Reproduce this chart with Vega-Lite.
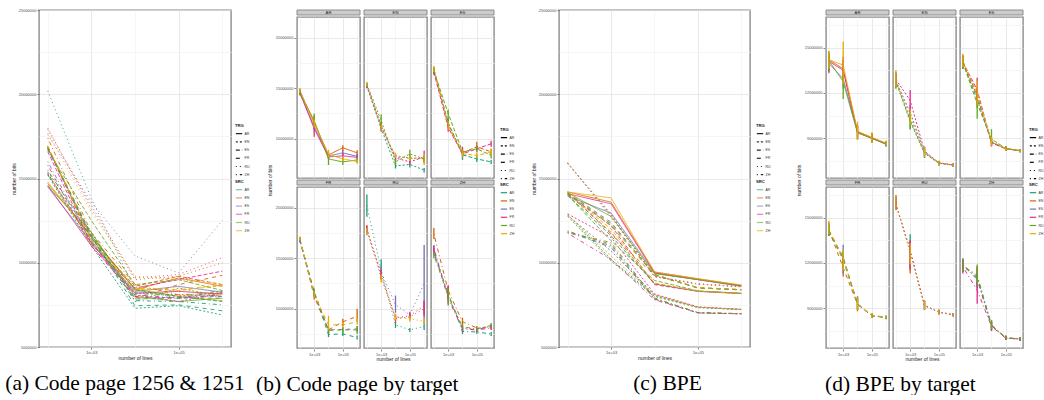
{
"$schema": "https://vega.github.io/schema/vega-lite/v6.json",
"background": "white",
"padding": {"left": 4, "top": 7, "right": 0, "bottom": 0},
"config": {
  "font": "Liberation Sans",
  "view": {"stroke": "#8C8C8C", "strokeWidth": 1.4},
  "axis": {"labelFontSize": 4, "titleFontSize": 5, "tickSize": 2, "tickWidth": 0.6, "tickColor": "#333333", "labelColor": "#4D4D4D", "titleColor": "#1A1A1A", "titleFontWeight": "normal", "domain": false, "labelPadding": 1, "titlePadding": 1.8, "gridWidth": 0.7, "labelFlush": false, "labelOverlap": false, "minExtent": 0},
  "legend": {"titleFontSize": 4.2, "titleFontWeight": "bold", "titleColor": "#1A1A1A", "labelFontSize": 3.5, "labelColor": "#333333", "symbolType": "stroke", "symbolSize": 40, "symbolStrokeWidth": 1.2, "rowPadding": 1.2, "titlePadding": 1.5, "labelOffset": 1.5, "padding": 0},
  "title": {"orient": "bottom", "font": "Liberation Serif", "fontSize": 21.5, "fontWeight": "normal", "color": "#000000", "offset": 12},
  "facet": {"spacing": 2},
  "concat": {"spacing": 26}
},
"datasets": {
"cp": [
{"trg":"AR","src":"EN","lines":100,"bits":14700000,"lo":14450000,"hi":14950000},
{"trg":"AR","src":"EN","lines":1000,"bits":11600000,"lo":11000000,"hi":12300000},
{"trg":"AR","src":"EN","lines":10000,"bits":8400000,"lo":8150000,"hi":8700000},
{"trg":"AR","src":"EN","lines":100000,"bits":9100000,"lo":8750000,"hi":9350000},
{"trg":"AR","src":"EN","lines":1000000,"bits":8600000,"lo":8350000,"hi":8850000},
{"trg":"AR","src":"ES","lines":100,"bits":14500000,"lo":14300000,"hi":14750000},
{"trg":"AR","src":"ES","lines":1000,"bits":11200000,"lo":10800000,"hi":11600000},
{"trg":"AR","src":"ES","lines":10000,"bits":8300000,"lo":8100000,"hi":8550000},
{"trg":"AR","src":"ES","lines":100000,"bits":8600000,"lo":8350000,"hi":8850000},
{"trg":"AR","src":"ES","lines":1000000,"bits":8250000,"lo":8050000,"hi":8500000},
{"trg":"AR","src":"FR","lines":100,"bits":14600000,"lo":14350000,"hi":14900000},
{"trg":"AR","src":"FR","lines":1000,"bits":11000000,"lo":10200000,"hi":11600000},
{"trg":"AR","src":"FR","lines":10000,"bits":8200000,"lo":7950000,"hi":8450000},
{"trg":"AR","src":"FR","lines":100000,"bits":8300000,"lo":8050000,"hi":8550000},
{"trg":"AR","src":"FR","lines":1000000,"bits":8150000,"lo":7950000,"hi":8400000},
{"trg":"AR","src":"RU","lines":100,"bits":14550000,"lo":14300000,"hi":14800000},
{"trg":"AR","src":"RU","lines":1000,"bits":11800000,"lo":11300000,"hi":12500000},
{"trg":"AR","src":"RU","lines":10000,"bits":8000000,"lo":7400000,"hi":8300000},
{"trg":"AR","src":"RU","lines":100000,"bits":7700000,"lo":7400000,"hi":8000000},
{"trg":"AR","src":"RU","lines":1000000,"bits":7900000,"lo":7600000,"hi":8200000},
{"trg":"AR","src":"ZH","lines":100,"bits":14800000,"lo":14550000,"hi":15000000},
{"trg":"AR","src":"ZH","lines":1000,"bits":11500000,"lo":11100000,"hi":11900000},
{"trg":"AR","src":"ZH","lines":10000,"bits":8450000,"lo":8200000,"hi":8900000},
{"trg":"AR","src":"ZH","lines":100000,"bits":8000000,"lo":7750000,"hi":8300000},
{"trg":"AR","src":"ZH","lines":1000000,"bits":7750000,"lo":7550000,"hi":7950000},
{"trg":"EN","src":"AR","lines":100,"bits":15200000,"lo":15000000,"hi":15400000},
{"trg":"EN","src":"AR","lines":1000,"bits":11000000,"lo":10700000,"hi":11400000},
{"trg":"EN","src":"AR","lines":10000,"bits":7300000,"lo":7050000,"hi":7600000},
{"trg":"EN","src":"AR","lines":100000,"bits":7450000,"lo":7150000,"hi":7750000},
{"trg":"EN","src":"AR","lines":1000000,"bits":6900000,"lo":6650000,"hi":7100000},
{"trg":"EN","src":"ES","lines":100,"bits":15300000,"lo":15100000,"hi":15500000},
{"trg":"EN","src":"ES","lines":1000,"bits":11300000,"lo":10900000,"hi":11700000},
{"trg":"EN","src":"ES","lines":10000,"bits":8200000,"lo":7900000,"hi":8500000},
{"trg":"EN","src":"ES","lines":100000,"bits":8100000,"lo":7800000,"hi":8400000},
{"trg":"EN","src":"ES","lines":1000000,"bits":8000000,"lo":7700000,"hi":8300000},
{"trg":"EN","src":"FR","lines":100,"bits":15250000,"lo":15050000,"hi":15450000},
{"trg":"EN","src":"FR","lines":1000,"bits":11200000,"lo":10800000,"hi":11600000},
{"trg":"EN","src":"FR","lines":10000,"bits":8100000,"lo":7800000,"hi":8400000},
{"trg":"EN","src":"FR","lines":100000,"bits":7700000,"lo":7400000,"hi":8000000},
{"trg":"EN","src":"FR","lines":1000000,"bits":8200000,"lo":7600000,"hi":8800000},
{"trg":"EN","src":"RU","lines":100,"bits":15400000,"lo":15200000,"hi":15600000},
{"trg":"EN","src":"RU","lines":1000,"bits":11800000,"lo":11100000,"hi":12400000},
{"trg":"EN","src":"RU","lines":10000,"bits":7700000,"lo":7400000,"hi":8000000},
{"trg":"EN","src":"RU","lines":100000,"bits":8500000,"lo":8100000,"hi":8900000},
{"trg":"EN","src":"RU","lines":1000000,"bits":8000000,"lo":7700000,"hi":8300000},
{"trg":"EN","src":"ZH","lines":100,"bits":15350000,"lo":15150000,"hi":15550000},
{"trg":"EN","src":"ZH","lines":1000,"bits":11100000,"lo":10800000,"hi":11400000},
{"trg":"EN","src":"ZH","lines":10000,"bits":8350000,"lo":8100000,"hi":8600000},
{"trg":"EN","src":"ZH","lines":100000,"bits":8050000,"lo":7800000,"hi":8300000},
{"trg":"EN","src":"ZH","lines":1000000,"bits":8100000,"lo":7400000,"hi":8500000},
{"trg":"ES","src":"AR","lines":100,"bits":16800000,"lo":16500000,"hi":17000000},
{"trg":"ES","src":"AR","lines":1000,"bits":11600000,"lo":11200000,"hi":12000000},
{"trg":"ES","src":"AR","lines":10000,"bits":8400000,"lo":7900000,"hi":8600000},
{"trg":"ES","src":"AR","lines":100000,"bits":8000000,"lo":7700000,"hi":8300000},
{"trg":"ES","src":"AR","lines":1000000,"bits":7700000,"lo":7500000,"hi":7900000},
{"trg":"ES","src":"EN","lines":100,"bits":16900000,"lo":16600000,"hi":17100000},
{"trg":"ES","src":"EN","lines":1000,"bits":11400000,"lo":11000000,"hi":11800000},
{"trg":"ES","src":"EN","lines":10000,"bits":8600000,"lo":8300000,"hi":8900000},
{"trg":"ES","src":"EN","lines":100000,"bits":9200000,"lo":8900000,"hi":9700000},
{"trg":"ES","src":"EN","lines":1000000,"bits":8700000,"lo":8400000,"hi":9000000},
{"trg":"ES","src":"FR","lines":100,"bits":16600000,"lo":16300000,"hi":16900000},
{"trg":"ES","src":"FR","lines":1000,"bits":11100000,"lo":10700000,"hi":11500000},
{"trg":"ES","src":"FR","lines":10000,"bits":8500000,"lo":8200000,"hi":9200000},
{"trg":"ES","src":"FR","lines":100000,"bits":9000000,"lo":8700000,"hi":9300000},
{"trg":"ES","src":"FR","lines":1000000,"bits":9500000,"lo":9200000,"hi":9800000},
{"trg":"ES","src":"RU","lines":100,"bits":16700000,"lo":16400000,"hi":17000000},
{"trg":"ES","src":"RU","lines":1000,"bits":12500000,"lo":11900000,"hi":12900000},
{"trg":"ES","src":"RU","lines":10000,"bits":8700000,"lo":8400000,"hi":9000000},
{"trg":"ES","src":"RU","lines":100000,"bits":9000000,"lo":8700000,"hi":9300000},
{"trg":"ES","src":"RU","lines":1000000,"bits":8350000,"lo":8050000,"hi":8650000},
{"trg":"ES","src":"ZH","lines":100,"bits":16900000,"lo":16600000,"hi":17200000},
{"trg":"ES","src":"ZH","lines":1000,"bits":11300000,"lo":10900000,"hi":11700000},
{"trg":"ES","src":"ZH","lines":10000,"bits":8500000,"lo":8200000,"hi":8800000},
{"trg":"ES","src":"ZH","lines":100000,"bits":8350000,"lo":8050000,"hi":8650000},
{"trg":"ES","src":"ZH","lines":1000000,"bits":8650000,"lo":8350000,"hi":9000000},
{"trg":"FR","src":"AR","lines":100,"bits":16800000,"lo":16600000,"hi":17000000},
{"trg":"FR","src":"AR","lines":1000,"bits":11600000,"lo":11300000,"hi":11900000},
{"trg":"FR","src":"AR","lines":10000,"bits":7450000,"lo":7200000,"hi":7700000},
{"trg":"FR","src":"AR","lines":100000,"bits":7500000,"lo":7300000,"hi":7700000},
{"trg":"FR","src":"AR","lines":1000000,"bits":7150000,"lo":6950000,"hi":7350000},
{"trg":"FR","src":"EN","lines":100,"bits":16900000,"lo":16700000,"hi":17100000},
{"trg":"FR","src":"EN","lines":1000,"bits":11200000,"lo":10900000,"hi":11500000},
{"trg":"FR","src":"EN","lines":10000,"bits":7900000,"lo":7600000,"hi":8200000},
{"trg":"FR","src":"EN","lines":100000,"bits":8700000,"lo":8300000,"hi":9000000},
{"trg":"FR","src":"EN","lines":1000000,"bits":9250000,"lo":8700000,"hi":10000000},
{"trg":"FR","src":"ES","lines":100,"bits":16750000,"lo":16550000,"hi":16950000},
{"trg":"FR","src":"ES","lines":1000,"bits":11500000,"lo":11200000,"hi":11800000},
{"trg":"FR","src":"ES","lines":10000,"bits":7900000,"lo":7600000,"hi":8200000},
{"trg":"FR","src":"ES","lines":100000,"bits":7950000,"lo":7700000,"hi":8200000},
{"trg":"FR","src":"ES","lines":1000000,"bits":8000000,"lo":7700000,"hi":8300000},
{"trg":"FR","src":"RU","lines":100,"bits":16850000,"lo":16650000,"hi":17050000},
{"trg":"FR","src":"RU","lines":1000,"bits":11700000,"lo":11300000,"hi":12000000},
{"trg":"FR","src":"RU","lines":10000,"bits":7850000,"lo":7550000,"hi":8150000},
{"trg":"FR","src":"RU","lines":100000,"bits":7900000,"lo":7600000,"hi":8200000},
{"trg":"FR","src":"RU","lines":1000000,"bits":7900000,"lo":7500000,"hi":8300000},
{"trg":"FR","src":"ZH","lines":100,"bits":16950000,"lo":16750000,"hi":17150000},
{"trg":"FR","src":"ZH","lines":1000,"bits":11400000,"lo":11100000,"hi":11700000},
{"trg":"FR","src":"ZH","lines":10000,"bits":8400000,"lo":7900000,"hi":9300000},
{"trg":"FR","src":"ZH","lines":100000,"bits":8400000,"lo":8100000,"hi":8700000},
{"trg":"FR","src":"ZH","lines":1000000,"bits":8700000,"lo":8400000,"hi":9000000},
{"trg":"RU","src":"AR","lines":100,"bits":20200000,"lo":19100000,"hi":21300000},
{"trg":"RU","src":"AR","lines":1000,"bits":13800000,"lo":13200000,"hi":14900000},
{"trg":"RU","src":"AR","lines":10000,"bits":8400000,"lo":8100000,"hi":8700000},
{"trg":"RU","src":"AR","lines":100000,"bits":7900000,"lo":7700000,"hi":8100000},
{"trg":"RU","src":"AR","lines":1000000,"bits":8250000,"lo":7900000,"hi":8600000},
{"trg":"RU","src":"EN","lines":100,"bits":18000000,"lo":17700000,"hi":18300000},
{"trg":"RU","src":"EN","lines":1000,"bits":13200000,"lo":12800000,"hi":13600000},
{"trg":"RU","src":"EN","lines":10000,"bits":9000000,"lo":8600000,"hi":9400000},
{"trg":"RU","src":"EN","lines":100000,"bits":9200000,"lo":8900000,"hi":9500000},
{"trg":"RU","src":"EN","lines":1000000,"bits":10000000,"lo":9200000,"hi":10800000},
{"trg":"RU","src":"ES","lines":100,"bits":17600000,"lo":17300000,"hi":17900000},
{"trg":"RU","src":"ES","lines":1000,"bits":13600000,"lo":13000000,"hi":14200000},
{"trg":"RU","src":"ES","lines":10000,"bits":10400000,"lo":9600000,"hi":11300000},
{"trg":"RU","src":"ES","lines":100000,"bits":9400000,"lo":9100000,"hi":9700000},
{"trg":"RU","src":"ES","lines":1000000,"bits":12500000,"lo":8600000,"hi":16300000},
{"trg":"RU","src":"FR","lines":100,"bits":17900000,"lo":17600000,"hi":18200000},
{"trg":"RU","src":"FR","lines":1000,"bits":13400000,"lo":13000000,"hi":13800000},
{"trg":"RU","src":"FR","lines":10000,"bits":9100000,"lo":8800000,"hi":9400000},
{"trg":"RU","src":"FR","lines":100000,"bits":9300000,"lo":9000000,"hi":9600000},
{"trg":"RU","src":"FR","lines":1000000,"bits":10300000,"lo":9400000,"hi":10800000},
{"trg":"RU","src":"ZH","lines":100,"bits":17700000,"lo":17400000,"hi":18000000},
{"trg":"RU","src":"ZH","lines":1000,"bits":13000000,"lo":12600000,"hi":13400000},
{"trg":"RU","src":"ZH","lines":10000,"bits":9200000,"lo":8900000,"hi":9500000},
{"trg":"RU","src":"ZH","lines":100000,"bits":9000000,"lo":8700000,"hi":9300000},
{"trg":"RU","src":"ZH","lines":1000000,"bits":8750000,"lo":8450000,"hi":9050000},
{"trg":"ZH","src":"AR","lines":100,"bits":15500000,"lo":15200000,"hi":15900000},
{"trg":"ZH","src":"AR","lines":1000,"bits":11500000,"lo":11000000,"hi":12000000},
{"trg":"ZH","src":"AR","lines":10000,"bits":7750000,"lo":7500000,"hi":8000000},
{"trg":"ZH","src":"AR","lines":100000,"bits":7700000,"lo":7500000,"hi":7900000},
{"trg":"ZH","src":"AR","lines":1000000,"bits":7500000,"lo":7300000,"hi":7700000},
{"trg":"ZH","src":"EN","lines":100,"bits":17400000,"lo":16900000,"hi":18000000},
{"trg":"ZH","src":"EN","lines":1000,"bits":11800000,"lo":11200000,"hi":12300000},
{"trg":"ZH","src":"EN","lines":10000,"bits":8700000,"lo":8400000,"hi":9100000},
{"trg":"ZH","src":"EN","lines":100000,"bits":8100000,"lo":7900000,"hi":8300000},
{"trg":"ZH","src":"EN","lines":1000000,"bits":8200000,"lo":8000000,"hi":8400000},
{"trg":"ZH","src":"ES","lines":100,"bits":16000000,"lo":15500000,"hi":16300000},
{"trg":"ZH","src":"ES","lines":1000,"bits":11200000,"lo":10800000,"hi":11600000},
{"trg":"ZH","src":"ES","lines":10000,"bits":8100000,"lo":7800000,"hi":8400000},
{"trg":"ZH","src":"ES","lines":100000,"bits":7900000,"lo":7700000,"hi":8100000},
{"trg":"ZH","src":"ES","lines":1000000,"bits":8300000,"lo":8100000,"hi":8500000},
{"trg":"ZH","src":"FR","lines":100,"bits":15800000,"lo":15400000,"hi":16200000},
{"trg":"ZH","src":"FR","lines":1000,"bits":11000000,"lo":10500000,"hi":12300000},
{"trg":"ZH","src":"FR","lines":10000,"bits":8000000,"lo":7700000,"hi":8300000},
{"trg":"ZH","src":"FR","lines":100000,"bits":7900000,"lo":7700000,"hi":8100000},
{"trg":"ZH","src":"FR","lines":1000000,"bits":8100000,"lo":7900000,"hi":8300000},
{"trg":"ZH","src":"RU","lines":100,"bits":15300000,"lo":15000000,"hi":15600000},
{"trg":"ZH","src":"RU","lines":1000,"bits":11300000,"lo":10300000,"hi":12000000},
{"trg":"ZH","src":"RU","lines":10000,"bits":8200000,"lo":7900000,"hi":8500000},
{"trg":"ZH","src":"RU","lines":100000,"bits":8000000,"lo":7800000,"hi":8200000},
{"trg":"ZH","src":"RU","lines":1000000,"bits":8350000,"lo":8150000,"hi":8550000}
],
"bpe": [
{"trg":"AR","src":"EN","lines":100,"bits":14200000,"lo":13500000,"hi":14750000},
{"trg":"AR","src":"EN","lines":1000,"bits":13600000,"lo":12900000,"hi":14400000},
{"trg":"AR","src":"EN","lines":10000,"bits":9450000,"lo":9000000,"hi":9900000},
{"trg":"AR","src":"EN","lines":100000,"bits":9050000,"lo":8800000,"hi":9350000},
{"trg":"AR","src":"EN","lines":1000000,"bits":8650000,"lo":8500000,"hi":8800000},
{"trg":"AR","src":"ES","lines":100,"bits":13950000,"lo":13300000,"hi":14500000},
{"trg":"AR","src":"ES","lines":1000,"bits":12950000,"lo":12300000,"hi":13600000},
{"trg":"AR","src":"ES","lines":10000,"bits":9400000,"lo":9000000,"hi":9800000},
{"trg":"AR","src":"ES","lines":100000,"bits":9000000,"lo":8750000,"hi":9300000},
{"trg":"AR","src":"ES","lines":1000000,"bits":8600000,"lo":8450000,"hi":8750000},
{"trg":"AR","src":"FR","lines":100,"bits":14100000,"lo":13400000,"hi":14600000},
{"trg":"AR","src":"FR","lines":1000,"bits":13500000,"lo":12800000,"hi":14200000},
{"trg":"AR","src":"FR","lines":10000,"bits":9400000,"lo":8950000,"hi":9900000},
{"trg":"AR","src":"FR","lines":100000,"bits":9000000,"lo":8700000,"hi":9300000},
{"trg":"AR","src":"FR","lines":1000000,"bits":8650000,"lo":8500000,"hi":8800000},
{"trg":"AR","src":"RU","lines":100,"bits":14150000,"lo":13500000,"hi":14700000},
{"trg":"AR","src":"RU","lines":1000,"bits":12750000,"lo":11600000,"hi":13200000},
{"trg":"AR","src":"RU","lines":10000,"bits":9350000,"lo":8900000,"hi":9800000},
{"trg":"AR","src":"RU","lines":100000,"bits":9000000,"lo":8700000,"hi":9300000},
{"trg":"AR","src":"RU","lines":1000000,"bits":8620000,"lo":8450000,"hi":8780000},
{"trg":"AR","src":"ZH","lines":100,"bits":14200000,"lo":13600000,"hi":14800000},
{"trg":"AR","src":"ZH","lines":1000,"bits":13850000,"lo":12600000,"hi":15400000},
{"trg":"AR","src":"ZH","lines":10000,"bits":9450000,"lo":8900000,"hi":10100000},
{"trg":"AR","src":"ZH","lines":100000,"bits":9050000,"lo":8700000,"hi":9400000},
{"trg":"AR","src":"ZH","lines":1000000,"bits":8680000,"lo":8500000,"hi":8850000},
{"trg":"EN","src":"AR","lines":100,"bits":12850000,"lo":12400000,"hi":13300000},
{"trg":"EN","src":"AR","lines":1000,"bits":10200000,"lo":9600000,"hi":10800000},
{"trg":"EN","src":"AR","lines":10000,"bits":8050000,"lo":7700000,"hi":8400000},
{"trg":"EN","src":"AR","lines":100000,"bits":7350000,"lo":7200000,"hi":7500000},
{"trg":"EN","src":"AR","lines":1000000,"bits":7220000,"lo":7120000,"hi":7320000},
{"trg":"EN","src":"ES","lines":100,"bits":12800000,"lo":12300000,"hi":13300000},
{"trg":"EN","src":"ES","lines":1000,"bits":10700000,"lo":10200000,"hi":11200000},
{"trg":"EN","src":"ES","lines":10000,"bits":8100000,"lo":7800000,"hi":8400000},
{"trg":"EN","src":"ES","lines":100000,"bits":7360000,"lo":7220000,"hi":7500000},
{"trg":"EN","src":"ES","lines":1000000,"bits":7230000,"lo":7130000,"hi":7330000},
{"trg":"EN","src":"FR","lines":100,"bits":12900000,"lo":12500000,"hi":13400000},
{"trg":"EN","src":"FR","lines":1000,"bits":11500000,"lo":10700000,"hi":12200000},
{"trg":"EN","src":"FR","lines":10000,"bits":8150000,"lo":7850000,"hi":8450000},
{"trg":"EN","src":"FR","lines":100000,"bits":7380000,"lo":7240000,"hi":7520000},
{"trg":"EN","src":"FR","lines":1000000,"bits":7240000,"lo":7140000,"hi":7340000},
{"trg":"EN","src":"RU","lines":100,"bits":12750000,"lo":12300000,"hi":13200000},
{"trg":"EN","src":"RU","lines":1000,"bits":10100000,"lo":9600000,"hi":10600000},
{"trg":"EN","src":"RU","lines":10000,"bits":8000000,"lo":7700000,"hi":8300000},
{"trg":"EN","src":"RU","lines":100000,"bits":7340000,"lo":7200000,"hi":7480000},
{"trg":"EN","src":"RU","lines":1000000,"bits":7220000,"lo":7120000,"hi":7320000},
{"trg":"EN","src":"ZH","lines":100,"bits":12850000,"lo":12400000,"hi":13500000},
{"trg":"EN","src":"ZH","lines":1000,"bits":10400000,"lo":9900000,"hi":10900000},
{"trg":"EN","src":"ZH","lines":10000,"bits":8100000,"lo":7800000,"hi":8400000},
{"trg":"EN","src":"ZH","lines":100000,"bits":7370000,"lo":7230000,"hi":7510000},
{"trg":"EN","src":"ZH","lines":1000000,"bits":7230000,"lo":7130000,"hi":7330000},
{"trg":"ES","src":"AR","lines":100,"bits":14000000,"lo":13600000,"hi":14400000},
{"trg":"ES","src":"AR","lines":1000,"bits":11600000,"lo":11000000,"hi":12200000},
{"trg":"ES","src":"AR","lines":10000,"bits":8750000,"lo":8500000,"hi":9000000},
{"trg":"ES","src":"AR","lines":100000,"bits":8300000,"lo":8150000,"hi":8450000},
{"trg":"ES","src":"AR","lines":1000000,"bits":8180000,"lo":8080000,"hi":8280000},
{"trg":"ES","src":"EN","lines":100,"bits":14100000,"lo":13700000,"hi":14500000},
{"trg":"ES","src":"EN","lines":1000,"bits":11800000,"lo":11200000,"hi":12400000},
{"trg":"ES","src":"EN","lines":10000,"bits":8750000,"lo":8500000,"hi":9000000},
{"trg":"ES","src":"EN","lines":100000,"bits":8320000,"lo":8170000,"hi":8470000},
{"trg":"ES","src":"EN","lines":1000000,"bits":8180000,"lo":8080000,"hi":8280000},
{"trg":"ES","src":"FR","lines":100,"bits":14050000,"lo":13600000,"hi":14500000},
{"trg":"ES","src":"FR","lines":1000,"bits":12200000,"lo":11600000,"hi":13000000},
{"trg":"ES","src":"FR","lines":10000,"bits":8700000,"lo":8450000,"hi":8950000},
{"trg":"ES","src":"FR","lines":100000,"bits":8300000,"lo":8150000,"hi":8450000},
{"trg":"ES","src":"FR","lines":1000000,"bits":8170000,"lo":8070000,"hi":8270000},
{"trg":"ES","src":"RU","lines":100,"bits":14000000,"lo":13600000,"hi":14400000},
{"trg":"ES","src":"RU","lines":1000,"bits":11300000,"lo":10300000,"hi":11900000},
{"trg":"ES","src":"RU","lines":10000,"bits":8950000,"lo":8600000,"hi":9600000},
{"trg":"ES","src":"RU","lines":100000,"bits":8330000,"lo":8180000,"hi":8480000},
{"trg":"ES","src":"RU","lines":1000000,"bits":8190000,"lo":8090000,"hi":8290000},
{"trg":"ES","src":"ZH","lines":100,"bits":14100000,"lo":13700000,"hi":14600000},
{"trg":"ES","src":"ZH","lines":1000,"bits":12000000,"lo":11200000,"hi":12800000},
{"trg":"ES","src":"ZH","lines":10000,"bits":8800000,"lo":8500000,"hi":9100000},
{"trg":"ES","src":"ZH","lines":100000,"bits":8310000,"lo":8160000,"hi":8460000},
{"trg":"ES","src":"ZH","lines":1000000,"bits":8180000,"lo":8080000,"hi":8280000},
{"trg":"FR","src":"AR","lines":100,"bits":14100000,"lo":13800000,"hi":14600000},
{"trg":"FR","src":"AR","lines":1000,"bits":12300000,"lo":11800000,"hi":12800000},
{"trg":"FR","src":"AR","lines":10000,"bits":9300000,"lo":8900000,"hi":9700000},
{"trg":"FR","src":"AR","lines":100000,"bits":8500000,"lo":8350000,"hi":8650000},
{"trg":"FR","src":"AR","lines":1000000,"bits":8400000,"lo":8300000,"hi":8500000},
{"trg":"FR","src":"EN","lines":100,"bits":14200000,"lo":13800000,"hi":14700000},
{"trg":"FR","src":"EN","lines":1000,"bits":11700000,"lo":11100000,"hi":12300000},
{"trg":"FR","src":"EN","lines":10000,"bits":9250000,"lo":8800000,"hi":9700000},
{"trg":"FR","src":"EN","lines":100000,"bits":8520000,"lo":8370000,"hi":8670000},
{"trg":"FR","src":"EN","lines":1000000,"bits":8400000,"lo":8300000,"hi":8500000},
{"trg":"FR","src":"ES","lines":100,"bits":14150000,"lo":13800000,"hi":14600000},
{"trg":"FR","src":"ES","lines":1000,"bits":12400000,"lo":11300000,"hi":13200000},
{"trg":"FR","src":"ES","lines":10000,"bits":9300000,"lo":8900000,"hi":9800000},
{"trg":"FR","src":"ES","lines":100000,"bits":8520000,"lo":8370000,"hi":8670000},
{"trg":"FR","src":"ES","lines":1000000,"bits":8380000,"lo":8280000,"hi":8480000},
{"trg":"FR","src":"RU","lines":100,"bits":14100000,"lo":13800000,"hi":14500000},
{"trg":"FR","src":"RU","lines":1000,"bits":12200000,"lo":11700000,"hi":12700000},
{"trg":"FR","src":"RU","lines":10000,"bits":9280000,"lo":8900000,"hi":9700000},
{"trg":"FR","src":"RU","lines":100000,"bits":8500000,"lo":8350000,"hi":8650000},
{"trg":"FR","src":"RU","lines":1000000,"bits":8400000,"lo":8300000,"hi":8500000},
{"trg":"FR","src":"ZH","lines":100,"bits":14200000,"lo":13900000,"hi":14800000},
{"trg":"FR","src":"ZH","lines":1000,"bits":12300000,"lo":11500000,"hi":12900000},
{"trg":"FR","src":"ZH","lines":10000,"bits":9300000,"lo":8900000,"hi":9700000},
{"trg":"FR","src":"ZH","lines":100000,"bits":8530000,"lo":8380000,"hi":8680000},
{"trg":"FR","src":"ZH","lines":1000000,"bits":8420000,"lo":8320000,"hi":8520000},
{"trg":"RU","src":"AR","lines":100,"bits":15900000,"lo":15500000,"hi":16400000},
{"trg":"RU","src":"AR","lines":1000,"bits":12900000,"lo":11500000,"hi":13900000},
{"trg":"RU","src":"AR","lines":10000,"bits":9180000,"lo":8900000,"hi":9500000},
{"trg":"RU","src":"AR","lines":100000,"bits":8740000,"lo":8600000,"hi":8900000},
{"trg":"RU","src":"AR","lines":1000000,"bits":8580000,"lo":8480000,"hi":8680000},
{"trg":"RU","src":"EN","lines":100,"bits":15950000,"lo":15500000,"hi":16500000},
{"trg":"RU","src":"EN","lines":1000,"bits":12700000,"lo":11300000,"hi":13500000},
{"trg":"RU","src":"EN","lines":10000,"bits":9200000,"lo":8900000,"hi":9500000},
{"trg":"RU","src":"EN","lines":100000,"bits":8750000,"lo":8600000,"hi":8900000},
{"trg":"RU","src":"EN","lines":1000000,"bits":8580000,"lo":8480000,"hi":8680000},
{"trg":"RU","src":"ES","lines":100,"bits":15900000,"lo":15500000,"hi":16400000},
{"trg":"RU","src":"ES","lines":1000,"bits":12800000,"lo":11800000,"hi":13400000},
{"trg":"RU","src":"ES","lines":10000,"bits":9170000,"lo":8900000,"hi":9500000},
{"trg":"RU","src":"ES","lines":100000,"bits":8740000,"lo":8600000,"hi":8900000},
{"trg":"RU","src":"ES","lines":1000000,"bits":8570000,"lo":8470000,"hi":8670000},
{"trg":"RU","src":"FR","lines":100,"bits":15880000,"lo":15500000,"hi":16300000},
{"trg":"RU","src":"FR","lines":1000,"bits":12850000,"lo":11600000,"hi":13500000},
{"trg":"RU","src":"FR","lines":10000,"bits":9180000,"lo":8900000,"hi":9500000},
{"trg":"RU","src":"FR","lines":100000,"bits":8730000,"lo":8600000,"hi":8880000},
{"trg":"RU","src":"FR","lines":1000000,"bits":8580000,"lo":8480000,"hi":8680000},
{"trg":"RU","src":"ZH","lines":100,"bits":15920000,"lo":15500000,"hi":16500000},
{"trg":"RU","src":"ZH","lines":1000,"bits":12750000,"lo":11900000,"hi":13300000},
{"trg":"RU","src":"ZH","lines":10000,"bits":9190000,"lo":8900000,"hi":9500000},
{"trg":"RU","src":"ZH","lines":100000,"bits":8750000,"lo":8600000,"hi":8900000},
{"trg":"RU","src":"ZH","lines":1000000,"bits":8590000,"lo":8490000,"hi":8690000},
{"trg":"ZH","src":"AR","lines":100,"bits":11800000,"lo":11400000,"hi":12300000},
{"trg":"ZH","src":"AR","lines":1000,"bits":11000000,"lo":10400000,"hi":11700000},
{"trg":"ZH","src":"AR","lines":10000,"bits":7850000,"lo":7500000,"hi":8200000},
{"trg":"ZH","src":"AR","lines":100000,"bits":7030000,"lo":6900000,"hi":7200000},
{"trg":"ZH","src":"AR","lines":1000000,"bits":6970000,"lo":6850000,"hi":7100000},
{"trg":"ZH","src":"EN","lines":100,"bits":11850000,"lo":11400000,"hi":12200000},
{"trg":"ZH","src":"EN","lines":1000,"bits":11100000,"lo":10500000,"hi":11800000},
{"trg":"ZH","src":"EN","lines":10000,"bits":7900000,"lo":7600000,"hi":8200000},
{"trg":"ZH","src":"EN","lines":100000,"bits":7040000,"lo":6920000,"hi":7180000},
{"trg":"ZH","src":"EN","lines":1000000,"bits":6980000,"lo":6860000,"hi":7100000},
{"trg":"ZH","src":"ES","lines":100,"bits":11900000,"lo":11500000,"hi":12300000},
{"trg":"ZH","src":"ES","lines":1000,"bits":10900000,"lo":10300000,"hi":11600000},
{"trg":"ZH","src":"ES","lines":10000,"bits":7850000,"lo":7550000,"hi":8150000},
{"trg":"ZH","src":"ES","lines":100000,"bits":7030000,"lo":6900000,"hi":7160000},
{"trg":"ZH","src":"ES","lines":1000000,"bits":6970000,"lo":6850000,"hi":7090000},
{"trg":"ZH","src":"FR","lines":100,"bits":11750000,"lo":11300000,"hi":12200000},
{"trg":"ZH","src":"FR","lines":1000,"bits":10200000,"lo":9300000,"hi":10700000},
{"trg":"ZH","src":"FR","lines":10000,"bits":7800000,"lo":7500000,"hi":8100000},
{"trg":"ZH","src":"FR","lines":100000,"bits":7020000,"lo":6900000,"hi":7150000},
{"trg":"ZH","src":"FR","lines":1000000,"bits":6960000,"lo":6840000,"hi":7080000},
{"trg":"ZH","src":"RU","lines":100,"bits":11800000,"lo":11400000,"hi":12200000},
{"trg":"ZH","src":"RU","lines":1000,"bits":11200000,"lo":10500000,"hi":11900000},
{"trg":"ZH","src":"RU","lines":10000,"bits":7900000,"lo":7600000,"hi":8200000},
{"trg":"ZH","src":"RU","lines":100000,"bits":7040000,"lo":6920000,"hi":7180000},
{"trg":"ZH","src":"RU","lines":1000000,"bits":6980000,"lo":6860000,"hi":7100000}
]
},
"spacing": 15,
"resolve": {"scale": {"color": "independent", "strokeDash": "independent"}},
"hconcat": [
{
 "spacing": 5,
 "resolve": {"scale": {"color": "independent", "strokeDash": "independent"}},
 "hconcat": [
  {
   "title": {"text": "(a) Code page 1256 & 1251", "dx": -10},
   "width": 192, "height": 337,
   "data": {"name": "cp"},
   "mark": {"type": "line", "strokeWidth": 1, "opacity": 0.85},
   "encoding": {
    "x": {"field": "lines", "type": "quantitative", "title": "number of lines", "scale": {"type": "log", "domain": [63.1, 1584893], "nice": false},
      "axis": {"values": [100, 1000, 10000, 100000, 1000000], "labelExpr": "datum.value == 1000 ? '1e+03' : datum.value == 100000 ? '1e+05' : ''", "tickOpacity": {"condition": {"test": "datum.value == 1000 || datum.value == 100000", "value": 1}, "value": 0}, "gridColor": {"condition": {"test": "datum.value == 1000 || datum.value == 100000", "value": "#E0E0E0"}, "value": "#F2F2F2"}}},
    "y": {"field": "bits", "type": "quantitative", "title": "number of bits", "scale": {"domain": [5000000, 25000000], "nice": false, "zero": false},
      "axis": {"values": [5000000, 7500000, 10000000, 12500000, 15000000, 17500000, 20000000, 22500000, 25000000], "labelExpr": "datum.value % 5000000 == 0 ? format(datum.value, 'd') : ''", "tickOpacity": {"condition": {"test": "datum.value % 5000000 == 0", "value": 1}, "value": 0}, "gridColor": {"condition": {"test": "datum.value % 5000000 == 0", "value": "#E0E0E0"}, "value": "#F2F2F2"}}},
    "color": {"field": "src", "type": "nominal", "title": "SRC", "scale": {"domain": ["AR", "EN", "ES", "FR", "RU", "ZH"], "range": ["#1B9E77", "#D95F02", "#7570B3", "#E7298A", "#66A61E", "#E6AB02"]}, "legend": {"orient": "none", "legendX": 196, "legendY": 170, "symbolOpacity": 0.6}},
    "strokeDash": {"field": "trg", "type": "nominal", "title": "TRG", "scale": {"range": [[1, 0], [2, 2], [4, 2], [4, 4], [1, 3], [1, 3, 4, 3]]}, "legend": {"orient": "none", "legendX": 196, "legendY": 114, "symbolStrokeColor": "#000000"}}
   }
  },
  {
   "title": {"text": "(b) Code page by target", "dx": -11},
   "spacing": 2,
   "resolve": {"scale": {"color": "independent", "strokeDash": "independent"}},
   "hconcat": [
    {"width": 5, "height": 341, "view": {"stroke": null}, "data": {"values": [{}]}, "mark": {"type": "text", "text": "number of bits", "angle": 270, "fontSize": 5, "color": "#1A1A1A"}, "encoding": {}},
    {
     "spacing": 0,
     "vconcat": [
      {"spacing": 0, "vconcat": [
       {
        "data": {"name": "cp"},
        "transform": [{"filter": {"field": "trg", "oneOf": ["AR", "EN", "ES"]}}, {"aggregate": [{"op": "count", "as": "n"}], "groupby": ["trg"]}],
        "facet": {"column": {"field": "trg", "type": "nominal", "header": null}},
        "spacing": 2,
        "spec": {"width": 63, "height": 5, "layer": [
          {"mark": {"type": "rect", "fill": "#CCCCCC", "stroke": "#8C8C8C", "strokeWidth": 1}, "encoding": {}},
          {"mark": {"type": "text", "fontSize": 4.2, "color": "#1A1A1A"}, "encoding": {"text": {"field": "trg", "type": "nominal"}}}
        ]}
       },
       {
        "data": {"name": "cp"},
        "transform": [{"filter": {"field": "trg", "oneOf": ["AR", "EN", "ES"]}}],
        "facet": {"column": {"field": "trg", "type": "nominal", "header": null}},
        "spacing": 2,
        "spec": {"width": 63, "height": 161,
         "encoding": {
          "x": {"field": "lines", "type": "quantitative", "title": null, "scale": {"type": "log", "domain": [63.1, 1584893], "nice": false},
            "axis": {"values": [100, 1000, 10000, 100000, 1000000], "labels": false, "ticks": false, "minExtent": 0, "maxExtent": 0, "gridColor": {"condition": {"test": "datum.value == 1000 || datum.value == 100000", "value": "#E0E0E0"}, "value": "#F2F2F2"}}},
          "color": {"field": "src", "type": "nominal", "title": "SRC", "scale": {"domain": ["AR", "EN", "ES", "FR", "RU", "ZH"], "range": ["#1B9E77", "#D95F02", "#7570B3", "#E7298A", "#66A61E", "#E6AB02"]}, "legend": {"orient": "none", "legendX": 203, "legendY": 173}}
         },
         "layer": [
          {"mark": {"type": "line", "strokeWidth": 1}, "encoding": {
            "y": {"field": "bits", "type": "quantitative", "title": null, "scale": {"domain": [6110000, 22050000], "nice": false, "zero": false},
              "axis": {"values": [7500000, 10000000, 12500000, 15000000, 17500000, 20000000], "labelExpr": "datum.value % 5000000 == 0 ? format(datum.value, 'd') : ''", "tickOpacity": {"condition": {"test": "datum.value % 5000000 == 0", "value": 1}, "value": 0}, "gridColor": {"condition": {"test": "datum.value % 5000000 == 0", "value": "#E0E0E0"}, "value": "#F2F2F2"}}},
            "strokeDash": {"field": "trg", "type": "nominal", "title": "TRG", "scale": {"range": [[1, 0], [2, 2], [4, 2], [4, 4], [1, 3], [1, 3, 4, 3]]}, "legend": {"orient": "none", "legendX": 203, "legendY": 118, "symbolStrokeColor": "#000000"}}
          }},
          {"mark": {"type": "rule", "strokeWidth": 1.3}, "encoding": {
            "y": {"field": "lo", "type": "quantitative", "title": null, "scale": {"domain": [6110000, 22050000], "nice": false, "zero": false},
              "axis": {"values": [7500000, 10000000, 12500000, 15000000, 17500000, 20000000], "labelExpr": "datum.value % 5000000 == 0 ? format(datum.value, 'd') : ''", "tickOpacity": {"condition": {"test": "datum.value % 5000000 == 0", "value": 1}, "value": 0}, "gridColor": {"condition": {"test": "datum.value % 5000000 == 0", "value": "#E0E0E0"}, "value": "#F2F2F2"}}},
            "y2": {"field": "hi"}
          }}
         ]
        }
       }
      ]},
      {"spacing": 0, "vconcat": [
       {
        "data": {"name": "cp"},
        "transform": [{"filter": {"field": "trg", "oneOf": ["FR", "RU", "ZH"]}}, {"aggregate": [{"op": "count", "as": "n"}], "groupby": ["trg"]}],
        "facet": {"column": {"field": "trg", "type": "nominal", "header": null}},
        "spacing": 2,
        "spec": {"width": 63, "height": 5, "layer": [
          {"mark": {"type": "rect", "fill": "#CCCCCC", "stroke": "#8C8C8C", "strokeWidth": 1}, "encoding": {}},
          {"mark": {"type": "text", "fontSize": 4.2, "color": "#1A1A1A"}, "encoding": {"text": {"field": "trg", "type": "nominal"}}}
        ]}
       },
       {
        "data": {"name": "cp"},
        "transform": [{"filter": {"field": "trg", "oneOf": ["FR", "RU", "ZH"]}}],
        "facet": {"column": {"field": "trg", "type": "nominal", "header": null}},
        "spacing": 2,
        "spec": {"width": 63, "height": 161,
         "encoding": {
          "x": {"field": "lines", "type": "quantitative", "title": null, "scale": {"type": "log", "domain": [63.1, 1584893], "nice": false},
            "axis": {"values": [100, 1000, 10000, 100000, 1000000], "labelExpr": "datum.value == 1000 ? '1e+03' : datum.value == 100000 ? '1e+05' : ''", "tickOpacity": {"condition": {"test": "datum.value == 1000 || datum.value == 100000", "value": 1}, "value": 0}, "gridColor": {"condition": {"test": "datum.value == 1000 || datum.value == 100000", "value": "#E0E0E0"}, "value": "#F2F2F2"}}},
          "color": {"field": "src", "type": "nominal", "title": "SRC", "scale": {"domain": ["AR", "EN", "ES", "FR", "RU", "ZH"], "range": ["#1B9E77", "#D95F02", "#7570B3", "#E7298A", "#66A61E", "#E6AB02"]}, "legend": {"orient": "none", "legendX": 203, "legendY": 173}}
         },
         "layer": [
          {"mark": {"type": "line", "strokeWidth": 1}, "encoding": {
            "y": {"field": "bits", "type": "quantitative", "title": null, "scale": {"domain": [6110000, 22050000], "nice": false, "zero": false},
              "axis": {"values": [7500000, 10000000, 12500000, 15000000, 17500000, 20000000], "labelExpr": "datum.value % 5000000 == 0 ? format(datum.value, 'd') : ''", "tickOpacity": {"condition": {"test": "datum.value % 5000000 == 0", "value": 1}, "value": 0}, "gridColor": {"condition": {"test": "datum.value % 5000000 == 0", "value": "#E0E0E0"}, "value": "#F2F2F2"}}},
            "strokeDash": {"field": "trg", "type": "nominal", "title": "TRG", "scale": {"range": [[1, 0], [2, 2], [4, 2], [4, 4], [1, 3], [1, 3, 4, 3]]}, "legend": {"orient": "none", "legendX": 203, "legendY": 118, "symbolStrokeColor": "#000000"}}
          }},
          {"mark": {"type": "rule", "strokeWidth": 1.3}, "encoding": {
            "y": {"field": "lo", "type": "quantitative", "title": null, "scale": {"domain": [6110000, 22050000], "nice": false, "zero": false},
              "axis": {"values": [7500000, 10000000, 12500000, 15000000, 17500000, 20000000], "labelExpr": "datum.value % 5000000 == 0 ? format(datum.value, 'd') : ''", "tickOpacity": {"condition": {"test": "datum.value % 5000000 == 0", "value": 1}, "value": 0}, "gridColor": {"condition": {"test": "datum.value % 5000000 == 0", "value": "#E0E0E0"}, "value": "#F2F2F2"}}},
            "y2": {"field": "hi"}
          }}
         ]
        }
       }
      ]},
      {"width": 193, "height": 5, "view": {"stroke": null}, "data": {"values": [{}]}, "mark": {"type": "text", "text": "number of lines", "fontSize": 5, "color": "#1A1A1A"}, "encoding": {}}
     ]
    }
   ]
  }
 ]
},
{
 "spacing": 24,
 "resolve": {"scale": {"color": "independent", "strokeDash": "independent"}},
 "hconcat": [
  {
   "title": {"text": "(c) BPE", "dx": 13},
   "width": 191, "height": 337,
   "data": {"name": "bpe"},
   "mark": {"type": "line", "strokeWidth": 1, "opacity": 0.85},
   "encoding": {
    "x": {"field": "lines", "type": "quantitative", "title": "number of lines", "scale": {"type": "log", "domain": [63.1, 1584893], "nice": false},
      "axis": {"values": [100, 1000, 10000, 100000, 1000000], "labelExpr": "datum.value == 1000 ? '1e+03' : datum.value == 100000 ? '1e+05' : ''", "tickOpacity": {"condition": {"test": "datum.value == 1000 || datum.value == 100000", "value": 1}, "value": 0}, "gridColor": {"condition": {"test": "datum.value == 1000 || datum.value == 100000", "value": "#E0E0E0"}, "value": "#F2F2F2"}}},
    "y": {"field": "bits", "type": "quantitative", "title": "number of bits", "scale": {"domain": [5000000, 25000000], "nice": false, "zero": false},
      "axis": {"values": [5000000, 7500000, 10000000, 12500000, 15000000, 17500000, 20000000, 22500000, 25000000], "labelExpr": "datum.value % 5000000 == 0 ? format(datum.value, 'd') : ''", "tickOpacity": {"condition": {"test": "datum.value % 5000000 == 0", "value": 1}, "value": 0}, "gridColor": {"condition": {"test": "datum.value % 5000000 == 0", "value": "#E0E0E0"}, "value": "#F2F2F2"}}},
    "color": {"field": "src", "type": "nominal", "title": "SRC", "scale": {"domain": ["AR", "EN", "ES", "FR", "RU", "ZH"], "range": ["#1B9E77", "#D95F02", "#7570B3", "#E7298A", "#66A61E", "#E6AB02"]}, "legend": {"orient": "none", "legendX": 197, "legendY": 170, "symbolOpacity": 0.6}},
    "strokeDash": {"field": "trg", "type": "nominal", "title": "TRG", "scale": {"range": [[1, 0], [2, 2], [4, 2], [4, 4], [1, 3], [1, 3, 4, 3]]}, "legend": {"orient": "none", "legendX": 197, "legendY": 114, "symbolStrokeColor": "#000000"}}
   }
  },
  {
   "title": {"text": "(d) BPE by target", "dx": 29},
   "spacing": 2,
   "resolve": {"scale": {"color": "independent", "strokeDash": "independent"}},
   "hconcat": [
    {"width": 5, "height": 341, "view": {"stroke": null}, "data": {"values": [{}]}, "mark": {"type": "text", "text": "number of bits", "angle": 270, "fontSize": 5, "color": "#1A1A1A"}, "encoding": {}},
    {
     "spacing": 0,
     "vconcat": [
      {"spacing": 0, "vconcat": [
       {
        "data": {"name": "bpe"},
        "transform": [{"filter": {"field": "trg", "oneOf": ["AR", "EN", "ES"]}}, {"aggregate": [{"op": "count", "as": "n"}], "groupby": ["trg"]}],
        "facet": {"column": {"field": "trg", "type": "nominal", "header": null}},
        "spacing": 2,
        "spec": {"width": 63, "height": 5, "layer": [
          {"mark": {"type": "rect", "fill": "#CCCCCC", "stroke": "#8C8C8C", "strokeWidth": 1}, "encoding": {}},
          {"mark": {"type": "text", "fontSize": 4.2, "color": "#1A1A1A"}, "encoding": {"text": {"field": "trg", "type": "nominal"}}}
        ]}
       },
       {
        "data": {"name": "bpe"},
        "transform": [{"filter": {"field": "trg", "oneOf": ["AR", "EN", "ES"]}}],
        "facet": {"column": {"field": "trg", "type": "nominal", "header": null}},
        "spacing": 2,
        "spec": {"width": 63, "height": 161,
         "encoding": {
          "x": {"field": "lines", "type": "quantitative", "title": null, "scale": {"type": "log", "domain": [63.1, 1584893], "nice": false},
            "axis": {"values": [100, 1000, 10000, 100000, 1000000], "labels": false, "ticks": false, "minExtent": 0, "maxExtent": 0, "gridColor": {"condition": {"test": "datum.value == 1000 || datum.value == 100000", "value": "#E0E0E0"}, "value": "#F2F2F2"}}},
          "color": {"field": "src", "type": "nominal", "title": "SRC", "scale": {"domain": ["AR", "EN", "ES", "FR", "RU", "ZH"], "range": ["#1B9E77", "#D95F02", "#7570B3", "#E7298A", "#66A61E", "#E6AB02"]}, "legend": {"orient": "none", "legendX": 203, "legendY": 173}}
         },
         "layer": [
          {"mark": {"type": "line", "strokeWidth": 1}, "encoding": {
            "y": {"field": "bits", "type": "quantitative", "title": null, "scale": {"domain": [6370000, 17030000], "nice": false, "zero": false},
              "axis": {"values": [7500000, 9000000, 10500000, 12000000, 13500000, 15000000, 16500000], "labelExpr": "datum.value % 3000000 == 0 ? format(datum.value, 'd') : ''", "tickOpacity": {"condition": {"test": "datum.value % 3000000 == 0", "value": 1}, "value": 0}, "gridColor": {"condition": {"test": "datum.value % 3000000 == 0", "value": "#E0E0E0"}, "value": "#F2F2F2"}}},
            "strokeDash": {"field": "trg", "type": "nominal", "title": "TRG", "scale": {"range": [[1, 0], [2, 2], [4, 2], [4, 4], [1, 3], [1, 3, 4, 3]]}, "legend": {"orient": "none", "legendX": 203, "legendY": 118, "symbolStrokeColor": "#000000"}}
          }},
          {"mark": {"type": "rule", "strokeWidth": 1.3}, "encoding": {
            "y": {"field": "lo", "type": "quantitative", "title": null, "scale": {"domain": [6370000, 17030000], "nice": false, "zero": false},
              "axis": {"values": [7500000, 9000000, 10500000, 12000000, 13500000, 15000000, 16500000], "labelExpr": "datum.value % 3000000 == 0 ? format(datum.value, 'd') : ''", "tickOpacity": {"condition": {"test": "datum.value % 3000000 == 0", "value": 1}, "value": 0}, "gridColor": {"condition": {"test": "datum.value % 3000000 == 0", "value": "#E0E0E0"}, "value": "#F2F2F2"}}},
            "y2": {"field": "hi"}
          }}
         ]
        }
       }
      ]},
      {"spacing": 0, "vconcat": [
       {
        "data": {"name": "bpe"},
        "transform": [{"filter": {"field": "trg", "oneOf": ["FR", "RU", "ZH"]}}, {"aggregate": [{"op": "count", "as": "n"}], "groupby": ["trg"]}],
        "facet": {"column": {"field": "trg", "type": "nominal", "header": null}},
        "spacing": 2,
        "spec": {"width": 63, "height": 5, "layer": [
          {"mark": {"type": "rect", "fill": "#CCCCCC", "stroke": "#8C8C8C", "strokeWidth": 1}, "encoding": {}},
          {"mark": {"type": "text", "fontSize": 4.2, "color": "#1A1A1A"}, "encoding": {"text": {"field": "trg", "type": "nominal"}}}
        ]}
       },
       {
        "data": {"name": "bpe"},
        "transform": [{"filter": {"field": "trg", "oneOf": ["FR", "RU", "ZH"]}}],
        "facet": {"column": {"field": "trg", "type": "nominal", "header": null}},
        "spacing": 2,
        "spec": {"width": 63, "height": 161,
         "encoding": {
          "x": {"field": "lines", "type": "quantitative", "title": null, "scale": {"type": "log", "domain": [63.1, 1584893], "nice": false},
            "axis": {"values": [100, 1000, 10000, 100000, 1000000], "labelExpr": "datum.value == 1000 ? '1e+03' : datum.value == 100000 ? '1e+05' : ''", "tickOpacity": {"condition": {"test": "datum.value == 1000 || datum.value == 100000", "value": 1}, "value": 0}, "gridColor": {"condition": {"test": "datum.value == 1000 || datum.value == 100000", "value": "#E0E0E0"}, "value": "#F2F2F2"}}},
          "color": {"field": "src", "type": "nominal", "title": "SRC", "scale": {"domain": ["AR", "EN", "ES", "FR", "RU", "ZH"], "range": ["#1B9E77", "#D95F02", "#7570B3", "#E7298A", "#66A61E", "#E6AB02"]}, "legend": {"orient": "none", "legendX": 203, "legendY": 173}}
         },
         "layer": [
          {"mark": {"type": "line", "strokeWidth": 1}, "encoding": {
            "y": {"field": "bits", "type": "quantitative", "title": null, "scale": {"domain": [6370000, 17030000], "nice": false, "zero": false},
              "axis": {"values": [7500000, 9000000, 10500000, 12000000, 13500000, 15000000, 16500000], "labelExpr": "datum.value % 3000000 == 0 ? format(datum.value, 'd') : ''", "tickOpacity": {"condition": {"test": "datum.value % 3000000 == 0", "value": 1}, "value": 0}, "gridColor": {"condition": {"test": "datum.value % 3000000 == 0", "value": "#E0E0E0"}, "value": "#F2F2F2"}}},
            "strokeDash": {"field": "trg", "type": "nominal", "title": "TRG", "scale": {"range": [[1, 0], [2, 2], [4, 2], [4, 4], [1, 3], [1, 3, 4, 3]]}, "legend": {"orient": "none", "legendX": 203, "legendY": 118, "symbolStrokeColor": "#000000"}}
          }},
          {"mark": {"type": "rule", "strokeWidth": 1.3}, "encoding": {
            "y": {"field": "lo", "type": "quantitative", "title": null, "scale": {"domain": [6370000, 17030000], "nice": false, "zero": false},
              "axis": {"values": [7500000, 9000000, 10500000, 12000000, 13500000, 15000000, 16500000], "labelExpr": "datum.value % 3000000 == 0 ? format(datum.value, 'd') : ''", "tickOpacity": {"condition": {"test": "datum.value % 3000000 == 0", "value": 1}, "value": 0}, "gridColor": {"condition": {"test": "datum.value % 3000000 == 0", "value": "#E0E0E0"}, "value": "#F2F2F2"}}},
            "y2": {"field": "hi"}
          }}
         ]
        }
       }
      ]},
      {"width": 193, "height": 5, "view": {"stroke": null}, "data": {"values": [{}]}, "mark": {"type": "text", "text": "number of lines", "fontSize": 5, "color": "#1A1A1A"}, "encoding": {}}
     ]
    }
   ]
  }
 ]
}
]
}
